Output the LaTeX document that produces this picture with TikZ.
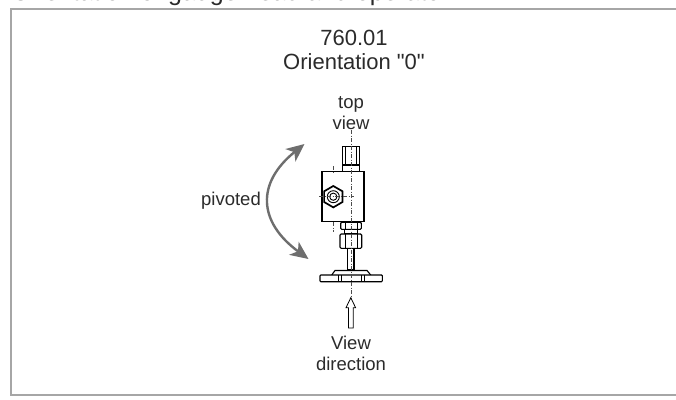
\documentclass[tikz,border=0pt]{standalone}
\usepackage{fontspec}
\newfontfamily\plainf{Liberation Sans}
\usetikzlibrary{arrows.meta}
\definecolor{txt}{HTML}{2B2B2B}
\definecolor{arc}{HTML}{6E6E6E}
\definecolor{framec}{HTML}{A6A6A6}
\tikzset{
 x=1pt,y=-1pt,
 lab/.style={inner sep=0,align=center,text=txt,font=\plainf\fontsize{18.5}{21}\selectfont},
 big/.style={inner sep=0,align=center,text=txt,font=\plainf\fontsize{22}{24.5}\selectfont},
 part/.style={draw=black,line width=1.1pt,fill=white},
 inner/.style={draw=black,line width=.7pt},
 axis/.style={draw=black!70,line width=.8pt,dash pattern=on 4pt off 1.5pt on 1pt off 1.5pt},
 pivot/.style={draw=arc,line width=2.4pt,{Stealth[length=18pt,width=16pt,inset=5pt]}-{Stealth[length=18pt,width=16pt,inset=5pt]}}
}
\begin{document}
\begin{tikzpicture}
\useasboundingbox (0,0) rectangle (676,399);
\fill[white] (0,0) rectangle (676,399);
\begin{scope}
\clip (0,0) rectangle (676,399);
\node[inner sep=0,text=txt,font=\plainf\fontsize{25}{27}\selectfont,anchor=base west] (head) at (11,0) {Orientation of gauge head and operator};
\end{scope}
\draw[framec,line width=1.5pt] (676,9) -- (11,9) -- (11,395) -- (676,395);
\node[big] (title) at (354,50) {760.01\\Orientation "0"};
\node[lab] (topv) at (351,113) {top\\view};
\node[lab] (piv) at (231,200.5) {pivoted};
\node[lab] (viewd) at (351,353) {View\\direction};
\coordinate (u) at (304.5,144);
\coordinate (d) at (308.5,259);
\draw[pivot] (u) .. controls (256,183) and (258,222) .. (d);
% device
\draw[part] (342.7,146.7) rectangle (359.3,165);
\draw[inner] (345.5,146.7) -- (345.5,165) (356.5,146.7) -- (356.5,165);
\draw[part] (342.7,165) rectangle (359.3,171.7);
\draw[part] (322,171.7) rectangle (364,221.7);
\draw[part] (344.5,229.3) rectangle (357.5,234);
\draw[part,rounded corners=1pt] (340.7,222.3) rectangle (361.3,229.3);
\draw[inner] (345,222.3) -- (345,229.3) (357,222.3) -- (357,229.3);
\draw[part,rounded corners=1.2pt] (340,234) rectangle (361.7,248.3);
\draw[inner] (345,234) -- (345,248.3) (357,234) -- (357,248.3);
\draw[part] (347.7,248.3) rectangle (354,270);
\draw[part] (331.7,275) -- (335,270.5) -- (367,270.5) -- (370.7,275);
\draw[part] (345,281.7) arc[start angle=180,end angle=0,radius=6,y radius=-6];
\draw[part,rounded corners=.8pt] (320,275) rectangle (382.3,281.7);
\draw[inner,line width=.9pt] (338,275) -- (338,281.7) (341,275) -- (341,281.7) (361,275) -- (361,281.7) (364,275) -- (364,281.7);
% hex
\draw[black,line width=1.7pt,fill=white] (333.3,186) -- (342.5,191.3) -- (342.5,202) -- (333.3,207.4) -- (324.1,202) -- (324.1,191.3) -- cycle;
\draw[inner,line width=.9pt] (333.3,196.7) circle[radius=6];
\draw[inner,line width=.9pt] (333.3,196.7) circle[radius=3.6];
\draw[axis] (319,196.7) -- (354,196.7);
\draw[axis] (333.3,166) -- (333.3,171.7) (333.3,222) -- (333.3,232);
\draw[axis] (351,130) -- (351,296);
% view arrow
\draw[black,line width=.8pt,fill=white] (348.4,328) -- (348.4,307.7) -- (346,307.7) -- (350.8,297.7) -- (355.6,307.7) -- (353.2,307.7) -- (353.2,328) -- cycle;
\end{tikzpicture}
\end{document}
